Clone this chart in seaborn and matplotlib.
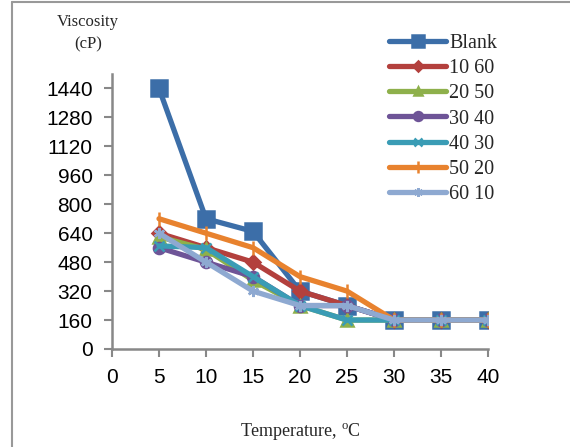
import numpy as np
import pandas as pd
import matplotlib
matplotlib.use('Agg')
import matplotlib.pyplot as plt
from matplotlib.lines import Line2D
import seaborn as sns

# Data
temperature = [5, 10, 15, 20, 25, 30, 35, 40]
blank = [1440, 720, 650, 320, 240, 160, 160, 160]
s10_60 = [640, 560, 480, 320, 240, 160, 160, 160]
s20_50 = [620, 550, 380, 240, 160, 160, 160, 160]
s30_40 = [560, 480, 400, 240, 240, 160, 160, 160]
s40_30 = [570, 560, 400, 240, 160, 160, 160, 160]
s50_20 = [720, 640, 560, 400, 320, 160, 160, 160]
s60_10 = [640, 480, 320, 240, 240, 160, 160, 160]

series_names = ['Blank', '10 60', '20 50', '30 40', '40 30', '50 20', '60 10']
series_vals = [blank, s10_60, s20_50, s30_40, s40_30, s50_20, s60_10]
yticks = [0, 160, 320, 480, 640, 800, 960, 1120, 1280, 1440]
xticks = [0, 5, 10, 15, 20, 25, 30, 35, 40]

colors = ['#3C6EA8', '#B3403D', '#8EB04B', '#6E5497', '#3A9CB5', '#E8822E', '#8EA9D1']
markers = ['s', 'D', '^', 'o', 'x', '|', (6, 2, 0)]
msizes = [11, 7, 8, 8, 7, 10, 8]

df = pd.DataFrame({
    'Temperature': np.tile(temperature, len(series_names)),
    'Viscosity': np.concatenate(series_vals),
    'Sample': np.repeat(series_names, len(temperature)),
})

sns.set_style('white')
plt.rcParams['font.family'] = ['Liberation Sans', 'DejaVu Sans']
plt.rcParams['mathtext.fontset'] = 'custom'
plt.rcParams['mathtext.rm'] = 'Liberation Serif'

fig = plt.figure(figsize=(5.70, 4.47), dpi=100)
ax = fig.add_axes([112 / 570, 1 - 349 / 447, 376 / 570, 275 / 447])

for name, col, mk, ms in zip(series_names, colors, markers, msizes):
    sub = df[df['Sample'] == name]
    sns.lineplot(data=sub, x='Temperature', y='Viscosity', ax=ax, color=col,
                 marker=mk, markersize=ms, linewidth=3.8, label=name,
                 markeredgecolor=col, markeredgewidth=1.8, legend=False)

ax.set_xlim(0, 40)
ax.set_ylim(0, 1520)
ax.set_xticks(xticks)
ax.set_yticks(yticks)
ax.tick_params(axis='both', labelsize=15, colors='#888888', labelcolor='black',
               length=6, width=1.5, direction='out', left=True, bottom=True, pad=8)
ax.set_xlabel('')
ax.set_ylabel('')
for s in ['top', 'right']:
    ax.spines[s].set_visible(False)
for s in ['left', 'bottom']:
    ax.spines[s].set_color('#888888')
    ax.spines[s].set_linewidth(1.8)

leg = ax.legend(loc='upper left', bbox_to_anchor=(389 / 570, 1 - 34 / 447),
                bbox_transform=fig.transFigure, frameon=False,
                prop={'family': 'Liberation Serif', 'size': 14.5},
                handlelength=2.85, handletextpad=0.15, labelspacing=0.3,
                markerscale=0.8, borderaxespad=0, borderpad=0)

fig.text(88 / 570, 1 - 22 / 447, 'Viscosity', ha='center', va='center',
         family='Liberation Serif', fontsize=12)
fig.text(88 / 570, 1 - 44 / 447, '(cP)', ha='center', va='center',
         family='Liberation Serif', fontsize=12)
fig.text(300 / 570, 1 - 432 / 447, r'Temperature, $^{\mathrm{o}}$C', ha='center',
         va='center', family='Liberation Serif', fontsize=13)

# outer chart border (left and top edges visible)
fig.add_artist(Line2D([12 / 570, 12 / 570], [0, 1 - 2 / 447],
                      transform=fig.transFigure, color='#999999', linewidth=1.5))
fig.add_artist(Line2D([12 / 570, 1], [1 - 2 / 447, 1 - 2 / 447],
                      transform=fig.transFigure, color='#999999', linewidth=1.5))

fig.savefig('out.png', dpi=100)
